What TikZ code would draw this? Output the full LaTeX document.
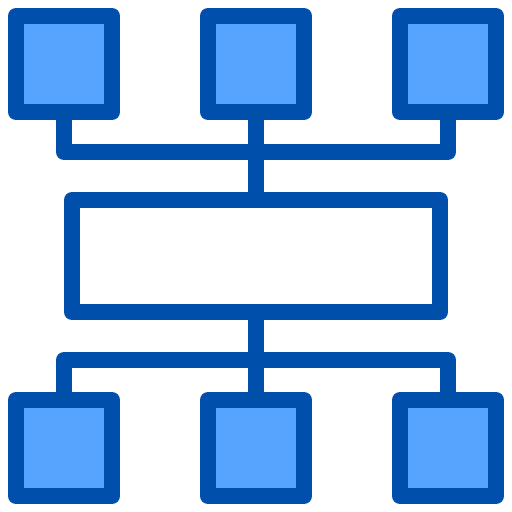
\documentclass[tikz,border=0pt]{standalone}
\usepackage{tikz}
\usetikzlibrary{positioning}
\definecolor{darkblue}{HTML}{004FAB}
\definecolor{lightblue}{HTML}{57A4FF}

\begin{document}
\begin{tikzpicture}[x=1pt,y=-1pt,line width=16pt,line join=round,
  node distance=192pt]
  \tikzstyle{box}=[draw=darkblue,fill=lightblue,minimum size=96pt,inner sep=0pt]
  \tikzstyle{wire}=[draw=darkblue]
  \useasboundingbox (0,0) rectangle (512,512);

  \node[box]         (A) at (64,64)   {};
  \node[box]         (B) [right of=A] {};
  \node[box]         (C) [right of=B] {};
  \node[draw=darkblue,fill=white,minimum width=368pt,minimum height=112pt,
        inner sep=0pt] (M) at (256,256) {};
  \node[box]         (D) at (64,448)  {};
  \node[box]         (E) [right of=D] {};
  \node[box]         (F) [right of=E] {};

  \coordinate (top) at (256,152);
  \coordinate (bot) at (256,360);

  \path[wire] (A.south) |- (top) -| (C.south)
        (B.south) -- (M.north)
        (M.south) -- (E.north)
        (D.north) |- (bot) -| (F.north);
\end{tikzpicture}
\end{document}
